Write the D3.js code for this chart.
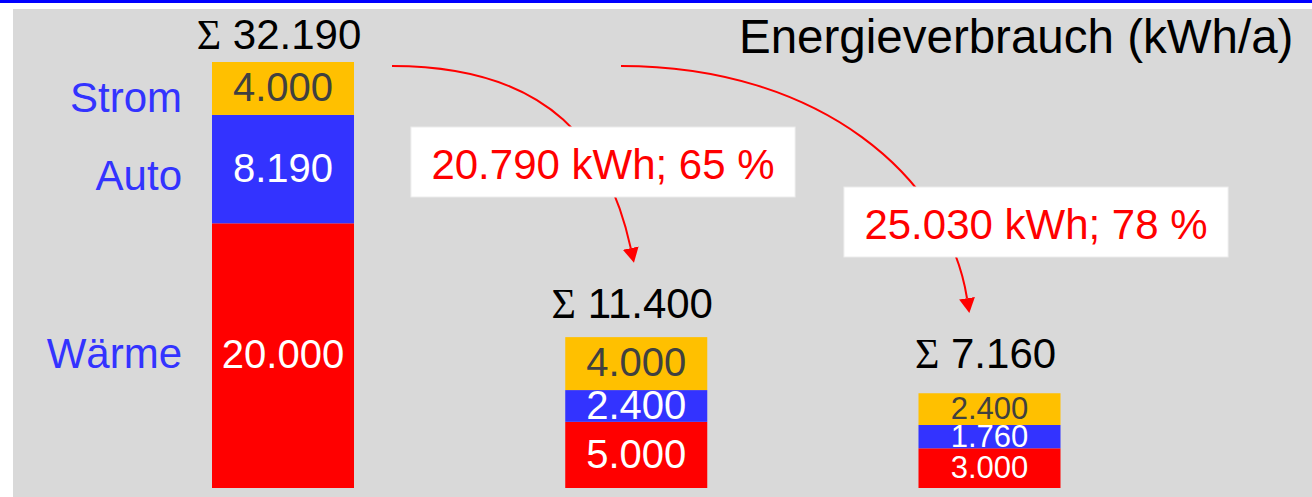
<!DOCTYPE html>
<html lang="de">
  <head>
    <meta charset="UTF-8" />
    <title>Energieverbrauch</title>
    <script src="https://d3js.org/d3.v7.min.js"></script>
    <style>
      body { margin: 0; background: #fff; }
      svg { display: block; font-family: "Liberation Sans", Arial, sans-serif; }
    </style>
  </head>
  <body>
    <script>
      // data (bottom to top of each stack)
      const columns = ["Heute", "Variante A", "Variante B"];
      const categories = ["Wärme", "Auto", "Strom"];
      const waerme = [20000, 5000, 3000];
      const auto = [8190, 2400, 1760];
      const strom = [4000, 4000, 2400];
      const title = "Energieverbrauch (kWh/a)";

      const width = 1312;
      const height = 497;

      const de = d3.formatLocale({ decimal: ",", thousands: ".", grouping: [3], currency: ["", " €"] });
      const fmt = de.format(",.0f");

      const rows = columns.map((c, i) => ({ col: c, "Wärme": waerme[i], Auto: auto[i], Strom: strom[i] }));
      const totals = rows.map((r) => d3.sum(categories, (k) => r[k]));
      const series = d3.stack().keys(categories)(rows);

      const x = d3.scaleBand().domain(columns).range([212, 1060.5]).paddingInner(0.598).paddingOuter(0);
      const y = d3.scaleLinear().domain([0, d3.max(totals)]).range([488, 62]);

      const fill = d3.scaleOrdinal().domain(categories).range(["#ff0000", "#3333ff", "#ffc000"]);
      const ink = d3.scaleOrdinal().domain(categories).range(["#ffffff", "#ffffff", "#404040"]);

      const svg = d3.select("body").append("svg").attr("width", width).attr("height", height);

      // frame: blue rule on top, grey panel
      svg.append("rect").attr("x", 0).attr("y", 0).attr("width", width).attr("height", 3).attr("fill", "#0000ff");
      svg.append("rect").attr("x", 13).attr("y", 9).attr("width", width - 13).attr("height", height - 9).attr("fill", "#d9d9d9");

      svg.append("text")
        .attr("x", 739).attr("y", 53)
        .attr("font-size", 47.5)
        .attr("fill", "#000")
        .text(title);

      // stacked bars
      const layer = svg.append("g").selectAll("g").data(series).join("g").attr("fill", (d) => fill(d.key));
      layer.selectAll("rect")
        .data((d) => d)
        .join("rect")
        .attr("x", (d) => x(d.data.col))
        .attr("y", (d) => y(d[1]))
        .attr("width", x.bandwidth())
        .attr("height", (d) => y(d[0]) - y(d[1]));

      // values in segments (small bars get a smaller font)
      series.forEach((s) => {
        svg.append("g").selectAll("text")
          .data(s)
          .join("text")
          .attr("x", (d) => x(d.data.col) + x.bandwidth() / 2)
          .attr("y", (d) => (y(d[0]) + y(d[1])) / 2)
          .attr("dy", "0.32em")
          .attr("text-anchor", "middle")
          .attr("font-size", (d, i) => (y(0) - y(totals[i]) < 120 ? 31 : 40))
          .attr("fill", ink(s.key))
          .text((d) => fmt(d[1] - d[0]));
      });

      // category labels left of first bar
      const labelNudge = { "Wärme": 12, Auto: 21, Strom: 24 };
      svg.append("g").selectAll("text")
        .data(series)
        .join("text")
        .attr("x", x(columns[0]) - 30)
        .attr("y", (s) => (y(s[0][0]) + y(s[0][1])) / 2 + labelNudge[s.key])
        .attr("text-anchor", "end")
        .attr("font-size", 42)
        .attr("fill", "#3333ff")
        .text((s) => s.key);

      // sum labels above bars
      const sumGap = [13, 19, 25];
      const sums = svg.append("g").selectAll("text")
        .data(columns)
        .join("text")
        .attr("x", (c) => x(c) + x.bandwidth() / 2 - 4)
        .attr("y", (c, i) => y(totals[i]) - sumGap[i])
        .attr("text-anchor", "middle")
        .attr("font-size", 42)
        .attr("fill", "#000");
      sums.append("tspan").attr("font-family", "Liberation Serif, serif").text("Σ");
      sums.append("tspan").text((c, i) => " " + fmt(totals[i]));

      // savings arrows
      svg.append("defs").append("marker")
        .attr("id", "head")
        .attr("viewBox", "0 0 15 16")
        .attr("refX", 0).attr("refY", 8)
        .attr("markerWidth", 15).attr("markerHeight", 16)
        .attr("markerUnits", "userSpaceOnUse")
        .attr("orient", "auto")
        .append("path").attr("d", "M0,0L15,8L0,16Z").attr("fill", "#ff0000");

      const barRight = x(columns[0]) + x.bandwidth();
      const arrows = [
        { to: 1, sx: barRight + 38, ex: -5.5, ey: 89, c1: 160, c2: [-22, -100], box: [603, 162] },
        { to: 2, sx: barRight + 267, ex: -22.5, ey: 95, c1: 200, c2: [-19, -120], box: [1036, 222] },
      ];

      arrows.forEach((a) => {
        const x0 = a.sx;
        const y0 = y(totals[0]) + 4;
        const x3 = x(columns[a.to]) + x.bandwidth() / 2 + a.ex;
        const y3 = y(totals[a.to]) - a.ey;
        const p = d3.path();
        p.moveTo(x0, y0);
        p.bezierCurveTo(x0 + a.c1, y0, x3 + a.c2[0], y3 + a.c2[1], x3, y3);
        svg.append("path")
          .attr("d", p.toString())
          .attr("fill", "none")
          .attr("stroke", "#ff0000")
          .attr("stroke-width", 2)
          .attr("marker-end", "url(#head)");
      });

      arrows.forEach((a) => {
        const saved = totals[0] - totals[a.to];
        const pct = Math.round((100 * saved) / totals[0]);
        const g = svg.append("g").attr("transform", `translate(${a.box[0]},${a.box[1]})`);
        const box = g.append("rect").attr("fill", "#ffffff").attr("stroke", "#ececec").attr("stroke-width", 1);
        const t = g.append("text")
          .attr("text-anchor", "middle")
          .attr("dy", "0.4em")
          .attr("font-size", 42)
          .attr("fill", "#ff0000")
          .text(`${fmt(saved)} kWh; ${pct} %`);
        const w = t.node().getComputedTextLength() + 41;
        box.attr("x", -w / 2).attr("y", -35).attr("width", w).attr("height", 70);
      });
    </script>
  </body>
</html>
